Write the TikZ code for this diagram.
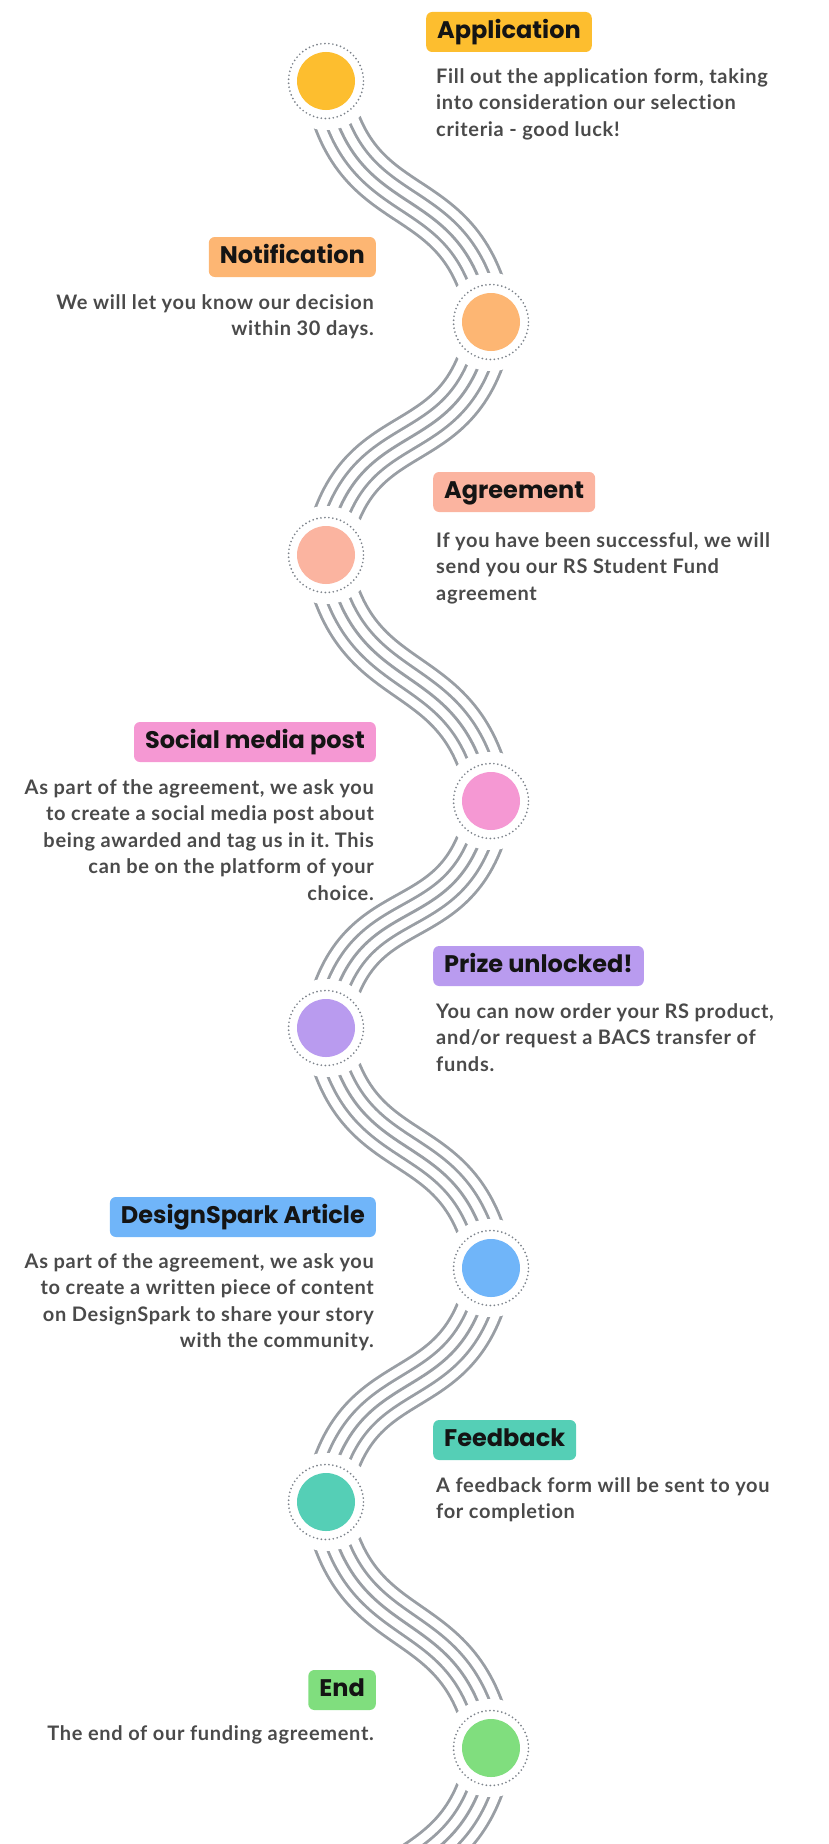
\documentclass[tikz,border=0pt]{standalone}
\usepackage{fontspec}
\setmainfont{Lato}[Ligatures=CommonOff, LetterSpace=3.4]
\newfontfamily\headfont{Poppins}
\usetikzlibrary{backgrounds}
\frenchspacing

\definecolor{cApp}{HTML}{FDBE2F}
\definecolor{cNote}{HTML}{FDB673}
\definecolor{cAgree}{HTML}{FBB4A0}
\definecolor{cSocial}{HTML}{F598D3}
\definecolor{cPrize}{HTML}{B99BEF}
\definecolor{cDesign}{HTML}{70B5F9}
\definecolor{cFeed}{HTML}{55CFB6}
\definecolor{cEnd}{HTML}{80DE7E}
\definecolor{wavegray}{HTML}{999EA4}
\definecolor{ringgray}{HTML}{7C828A}
\definecolor{desctext}{HTML}{4A4A4A}
\definecolor{headtext}{HTML}{141414}

\tikzset{
  stepdot/.style={circle, minimum size=98pt, inner sep=0pt, fill=white,
    path picture={
      \fill[#1] (path picture bounding box.center) circle (29pt);
      \draw[ringgray, line width=1.9pt, line cap=round, dash pattern=on 0pt off 4pt]
        (path picture bounding box.center) circle (37.5pt);}},
  headbox/.style={fill=#1, rounded corners=6pt, inner xsep=11pt, inner ysep=9pt,
    text height=17.5pt, text depth=4.5pt, text=headtext,
    font=\headfont\bfseries\fontsize{24}{28}\selectfont},
  desc/.style={inner sep=0pt, text=desctext, font=\bfseries\fontsize{20}{26.5}\selectfont},
  wave/.style={line width=2.9pt, draw=wavegray,
    preaction={draw=wavegray, line width=48.1pt},
    preaction={draw=white, line width=42.3pt},
    preaction={draw=wavegray, line width=25.5pt},
    preaction={draw=white, line width=19.7pt}},
}

\begin{document}
\begin{tikzpicture}[x=1pt, y=-1pt]
  \useasboundingbox (0,0) rectangle (829,1844);

  % steps
  \node[stepdot=cApp] (s1) at (326,81) {};
  \node[stepdot=cNote] (s2) at (491,322) {};
  \node[stepdot=cAgree] (s3) at (326,555) {};
  \node[stepdot=cSocial] (s4) at (491,801) {};
  \node[stepdot=cPrize] (s5) at (326,1028) {};
  \node[stepdot=cDesign] (s6) at (491,1268) {};
  \node[stepdot=cFeed] (s7) at (326,1502) {};
  \node[stepdot=cEnd] (s8) at (491,1748) {};
  \coordinate (tail) at (326,1990);

  % titles
  \node[headbox=cApp, anchor=west] (t1) at (426,32) {Application};
  \node[headbox=cNote, anchor=east] (t2) at (376,257) {Notification};
  \node[headbox=cAgree, anchor=west] (t3) at (433,492) {Agreement};
  \node[headbox=cSocial, anchor=east] (t4) at (376,742) {Social media post};
  \node[headbox=cPrize, anchor=west] (t5) at (433,966) {Prize unlocked!};
  \node[headbox=cDesign, anchor=east] (t6) at (376,1217) {DesignSpark Article};
  \node[headbox=cFeed, anchor=west] (t7) at (433,1440) {Feedback};
  \node[headbox=cEnd, anchor=east] (t8) at (376,1690) {End};

  % texts
  \node[desc, anchor=north west, align=left] (d1) at (436,68)
    {Fill out the application form, taking\\into consideration our selection\\criteria - good luck!};
  \node[desc, anchor=north east, align=right] (d2) at (374,294)
    {We will let you know our decision\\within 30 days.};
  \node[desc, anchor=north west, align=left] (d3) at (436,532)
    {If you have been successful, we will\\send you our RS Student Fund\\agreement};
  \node[desc, anchor=north east, align=right] (d4) at (374,779)
    {As part of the agreement, we ask you\\to create a social media post about\\being awarded and tag us in it. This\\can be on the platform of your\\choice.};
  \node[desc, anchor=north west, align=left] (d5) at (436,1003)
    {You can now order your RS product,\\and/or request a BACS transfer of\\funds.};
  \node[desc, anchor=north east, align=right] (d6) at (374,1253)
    {As part of the agreement, we ask you\\to create a written piece of content\\on DesignSpark to share your story\\with the community.};
  \node[desc, anchor=north west, align=left] (d7) at (436,1477)
    {A feedback form will be sent to you\\for completion};
  \node[desc, anchor=north east, align=right] (d8) at (374,1725)
    {The end of our funding agreement.};

  % waves
  \begin{scope}[on background layer]
    \draw[wave] (s1.center) .. controls +(27,150) and +(-27,-150) .. (s2.center);
    \draw[wave] (s2.center) .. controls +(-27,150) and +(27,-150) .. (s3.center);
    \draw[wave] (s3.center) .. controls +(27,150) and +(-27,-150) .. (s4.center);
    \draw[wave] (s4.center) .. controls +(-27,150) and +(27,-150) .. (s5.center);
    \draw[wave] (s5.center) .. controls +(27,150) and +(-27,-150) .. (s6.center);
    \draw[wave] (s6.center) .. controls +(-27,150) and +(27,-150) .. (s7.center);
    \draw[wave] (s7.center) .. controls +(27,150) and +(-27,-150) .. (s8.center);
    \draw[wave] (s8.center) .. controls +(-27,150) and +(27,-150) .. (tail);
  \end{scope}
\end{tikzpicture}
\end{document}
